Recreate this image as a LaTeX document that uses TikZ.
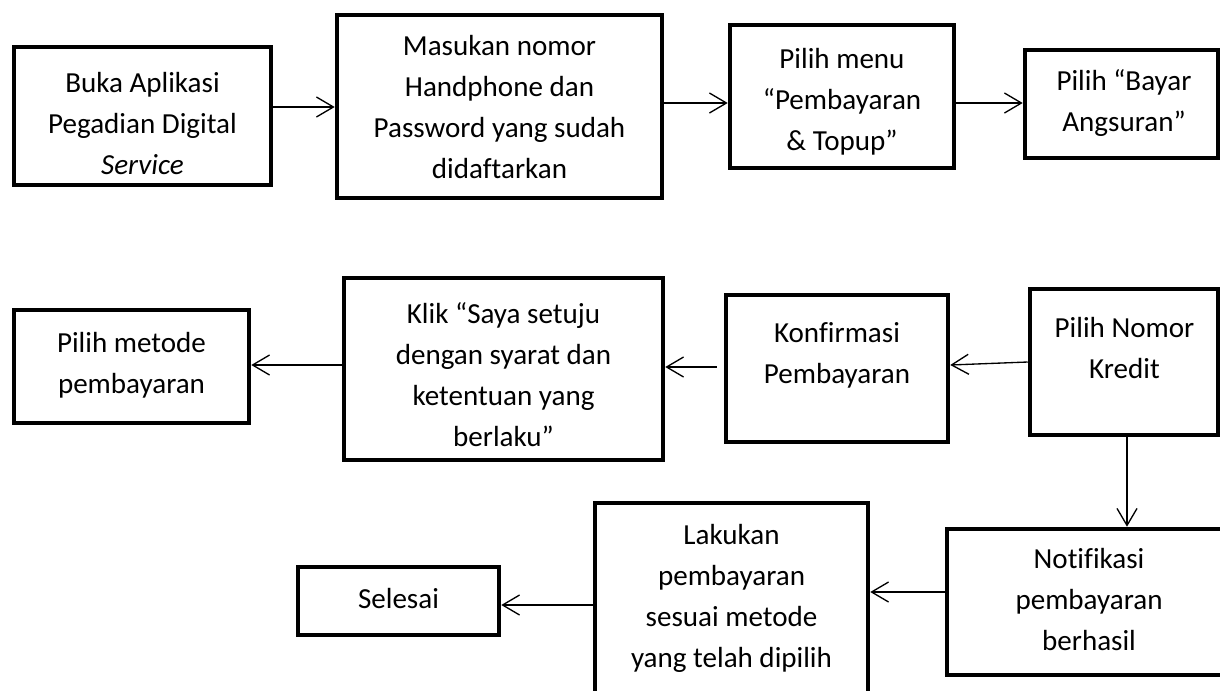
\documentclass[tikz,border=0pt]{standalone}
\usepackage{fontspec}
\setmainfont{Carlito}[Ligatures=CommonOff]
\usetikzlibrary{arrows.meta,fit,calc}
\begin{document}
\begin{tikzpicture}[x=0.75pt,y=-0.75pt,
  box/.style={draw, line width=3.4pt, inner sep=0pt, rectangle},
  txt/.style={font=\fontsize{21.8pt}{30.75pt}\selectfont, align=center, inner sep=0pt, anchor=north},
  arr/.style={line width=1pt, -{Straight Barb[length=12.75pt,width=15pt,line width=1pt]}}]
\useasboundingbox (0,0) rectangle (1220,690);
\fill[white] (0,0) rectangle (1220,690);
\clip (0,0) rectangle (1220,690);
% boxes
\node[box, fit={(14,47)(271,185)}] (b1) {};
\node[box, fit={(337,15)(662,198)}] (b2) {};
\node[box, fit={(730,25)(954,168)}] (b3) {};
\node[box, fit={(1025,50)(1218,158)}] (b4) {};
\node[box, fit={(14,310)(249,423)}] (b5) {};
\node[box, fit={(344,278)(663,460)}] (b6) {};
\node[box, fit={(726,295)(948,442)}] (b7) {};
\node[box, fit={(1030,289)(1218,435)}] (b8) {};
\node[box, fit={(947,529)(1232,675)}] (b9) {};
\node[box, fit={(595,503)(868,702)}] (b10) {};
\node[box, fit={(298,567)(499,635)}] (b11) {};
% texts
\node[txt] (t1) at (142.5,63.3) {\strut Buka Aplikasi\\Pegadian Digital\\\textit{Service}};
\node[txt] (t2) at (499.5,26.3) {\strut Masukan nomor\\Handphone dan\\Password yang sudah\\didaftarkan};
\node[txt] (t3) at (842,39.3) {\strut Pilih menu\\“Pembayaran\\\& Topup”};
\node[txt] (t4) at (1124,61.3) {\strut Pilih “Bayar\\Angsuran”};
\node[txt] (t5) at (131.5,323.3) {\strut Pilih metode\\pembayaran};
\node[txt] (t6) at (503.5,294.3) {\strut Klik “Saya setuju\\dengan syarat dan\\ketentuan yang\\berlaku”};
\node[txt] (t7) at (837,313.3) {\strut Konfirmasi\\Pembayaran};
\node[txt] (t8) at (1124.5,308.3) {\strut Pilih Nomor\\Kredit};
\node[txt] (t9) at (1089,539.3) {\strut Notifikasi\\pembayaran\\berhasil};
\node[txt] (t10) at (731.5,515.3) {\strut Lakukan\\pembayaran\\sesuai metode\\yang telah dipilih};
\node[txt] (t11) at (398.5,579.3) {\strut Selesai};
% connectors
\draw[arr] (b1.east |- 0,107) -- (b2.west |- 0,107);
\draw[arr] (b2.east |- 0,103) -- (b3.west |- 0,103);
\draw[arr] (b3.east |- 0,103) -- (b4.west |- 0,103);
\draw[arr] (b8.west |- 0,362) -- (b7.east |- 0,365);
\draw[arr] ($(b7.west |- 0,367)+(-7,0)$) -- (b6.east |- 0,367);
\draw[arr] (b6.west |- 0,365) -- (b5.east |- 0,365);
\draw[arr] (b8.south -| 1127,0) -- (b9.north -| 1127,0);
\draw[arr] (b9.west |- 0,592) -- (b10.east |- 0,592);
\draw[arr] (b10.west |- 0,605) -- (b11.east |- 0,605);
\end{tikzpicture}
\end{document}
